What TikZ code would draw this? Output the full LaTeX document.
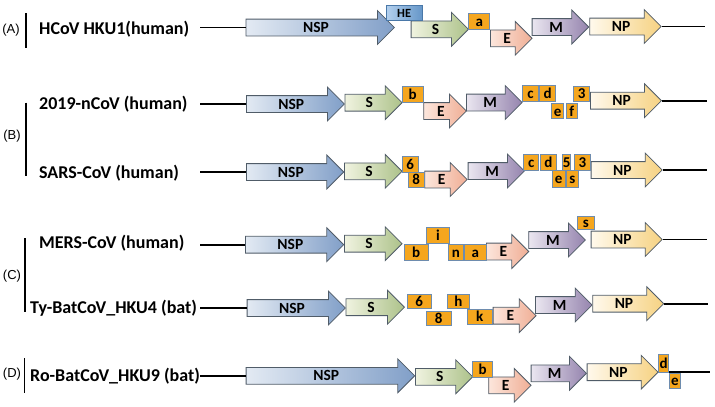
\documentclass[tikz,border=0pt]{standalone}
\usepackage{fontspec}
\setmainfont{Carlito}
\newfontfamily\tagfont{Liberation Sans}
\usepackage{tikz}
\usetikzlibrary{shapes.arrows}

\definecolor{nspl}{HTML}{E3EAF3}
\definecolor{nspr}{HTML}{819FC8}
\definecolor{spkl}{HTML}{F0F3E0}
\definecolor{spkr}{HTML}{ADC28A}
\definecolor{envl}{HTML}{FCE6DC}
\definecolor{envr}{HTML}{F0AE95}
\definecolor{meml}{HTML}{EAE6F0}
\definecolor{memr}{HTML}{9584AE}
\definecolor{ncpl}{HTML}{FFF9EC}
\definecolor{ncpr}{HTML}{F6D282}
\definecolor{hel}{HTML}{B3D0EE}
\definecolor{her}{HTML}{6697C9}
\definecolor{heedge}{HTML}{4A78A8}
\definecolor{orfill}{HTML}{F5A61E}
\definecolor{orfedge}{HTML}{6E8CAE}
\definecolor{genedge}{HTML}{505C68}

\tikzset{
  gene/.style={single arrow, draw=genedge, line width=0.8pt, single arrow head extend=8.5pt,
    text height=10pt, text depth=0pt, inner xsep=0pt, inner ysep=3pt, anchor=tail,
    font=\fontsize{15.5}{15.5}\selectfont\bfseries},
  nsp/.style={gene, left color=nspl, right color=nspr},
  spk/.style={gene, left color=spkl, right color=spkr},
  env/.style={gene, left color=envl, right color=envr},
  mem/.style={gene, left color=meml, right color=memr},
  ncp/.style={gene, left color=ncpl, right color=ncpr},
  orf/.style 2 args={rectangle, draw=orfedge, fill=orfill, line width=0.8pt, minimum width=#1,
    minimum height=#2, inner sep=0pt, text height=10pt, text depth=0pt, anchor=north west,
    font=\fontsize{15}{15}\selectfont\bfseries},
  hebox/.style 2 args={orf={#1}{#2}, draw=heedge, left color=hel, right color=her,
    font=\fontsize{12.5}{12.5}\selectfont\bfseries},
  virus/.style={anchor=west, inner sep=0pt, font=\fontsize{18}{20}\selectfont\bfseries},
  grp/.style={inner sep=0pt, font=\tagfont\fontsize{13}{15}\selectfont},
  backbone/.style={line width=1.6pt},
  bar/.style={line width=1.2pt}
}

\begin{document}
\begin{tikzpicture}[x=1pt,y=-1pt]
  \useasboundingbox (0,0) rectangle (715,407);

  % group tags
  \node[grp] (tagA) at (11,30) {(A)};
  \node[grp] (tagB) at (12,136) {(B)};
  \node[grp] (tagC) at (12,276) {(C)};
  \node[grp] (tagD) at (12,374) {(D)};
  \draw[bar] (26,13.3) -- (26,48.3);
  \draw[bar] (26,102.7) -- (26,175.7);
  \draw[bar] (25,238.3) -- (25,311.7);
  \draw[bar] (24.3,358.3) -- (24.3,392.7);

  % virus names
  \node[virus] (nameA) at (39,29.3) {HCoV HKU1(human)};
  \node[virus] (nameB) at (39,104) {2019-nCoV (human)};
  \node[virus] (nameS) at (39,173) {SARS-CoV (human)};
  \node[virus] (nameM) at (39,243.3) {MERS-CoV (human)};
  \node[virus] (nameT) at (30,308.3) {Ty-BatCoV\_HKU4 (bat)};
  \node[virus] (nameD) at (30,376) {Ro-BatCoV\_HKU9 (bat)};

  % (A) HCoV HKU1
  \node[nsp, minimum height=148.5pt] (nspA) at (245.5,27.5) {NSP};
  \node[spk, minimum height=57.3pt] (spkA) at (410.7,29.3) {S};
  \node[env, minimum height=41.7pt] (envA) at (490,38.3) {E};
  \node[mem, minimum height=56.6pt] (memA) at (531.7,27) {M};
  \node[ncp, minimum height=71.4pt] (ncpA) at (589.3,26.5) {NP};
  \coordinate (lsA) at (200,27.5);
  \coordinate (leA) at (705,26.5);
  \draw[backbone] (lsA) -- (nspA.tail);
  \draw[backbone] (ncpA.tip) -- (leA);
  \node[hebox={36pt}{15.3pt}] (heA) at (385.7,4.7) {HE};
  \node[orf={21pt}{16pt}] (aA) at (468.3,13.3) {a};

  % (B) 2019-nCoV
  \node[nsp, minimum height=98pt] (nspB) at (246,104) {NSP};
  \node[spk, minimum height=57.2pt] (spkB) at (344.5,102.7) {S};
  \node[env, minimum height=42.7pt] (envB) at (423.3,111) {E};
  \node[mem, minimum height=55.7pt] (memB) at (466,102.5) {M};
  \node[ncp, minimum height=71pt] (ncpB) at (590,100.7) {NP};
  \coordinate (lsB) at (200,104);
  \coordinate (leB) at (706.7,100.7);
  \draw[backbone] (lsB) -- (nspB.tail);
  \draw[backbone] (ncpB.tip) -- (leB);
  \node[orf={21pt}{16.3pt}] (bB) at (401.7,86) {b};
  \node[orf={15.4pt}{15.7pt}] (cB) at (522.3,85) {c};
  \node[orf={15.7pt}{15.7pt}] (dB) at (539.3,85) {d};
  \node[orf={12.3pt}{15pt}] (eB) at (551,103.3) {e};
  \node[orf={10.7pt}{15pt}] (fB) at (566,103.3) {f};
  \node[orf={16pt}{14.7pt}] (threeB) at (573.3,86) {3};

  % (B) SARS-CoV
  \node[nsp, minimum height=97.3pt] (nspS) at (246,172) {NSP};
  \node[spk, minimum height=57.7pt] (spkS) at (344,171.3) {S};
  \node[env, minimum height=42.4pt] (envS) at (424.3,179.5) {E};
  \node[mem, minimum height=56.3pt] (memS) at (467.7,171) {M};
  \node[ncp, minimum height=71pt] (ncpS) at (590.7,170) {NP};
  \coordinate (lsS) at (200,172);
  \coordinate (leS) at (706.7,170);
  \draw[backbone] (lsS) -- (nspS.tail);
  \draw[backbone] (ncpS.tip) -- (leS);
  \node[orf={16pt}{15.7pt}] (sixS) at (401.7,156) {6};
  \node[orf={16.3pt}{15.6pt}] (eightS) at (407.7,171.7) {8};
  \node[orf={15pt}{16pt}] (cS) at (523.3,154) {c};
  \node[orf={16pt}{16pt}] (dS) at (540,154) {d};
  \node[orf={7.7pt}{16pt}] (fiveS) at (562.3,154) {5};
  \node[orf={16pt}{16pt}] (threeS) at (574,154) {3};
  \node[orf={13.3pt}{16.7pt}] (eS) at (551.7,170) {e};
  \node[orf={11.7pt}{16.7pt}] (sS) at (566,170) {s};

  % (C) MERS-CoV
  \node[nsp, minimum height=98.3pt] (nspM) at (245,244.7) {NSP};
  \node[spk, minimum height=57.7pt] (spkM) at (344,243.7) {S};
  \node[env, minimum height=42.3pt] (envM) at (486,251.5) {E};
  \node[mem, minimum height=56.7pt] (memM) at (528.3,240) {M};
  \node[ncp, minimum height=71pt] (ncpM) at (590.7,239.5) {NP};
  \coordinate (lsM) at (200,244.7);
  \coordinate (leM) at (706.7,239.5);
  \draw[backbone] (lsM) -- (nspM.tail);
  \draw[backbone] (ncpM.tip) -- (leM);
  \node[orf={23.7pt}{16pt}] (bM) at (404,244) {b};
  \node[orf={23.6pt}{16pt}] (iM) at (425.7,227.3) {i};
  \node[orf={14.4pt}{16pt}] (nM) at (448.3,244) {n};
  \node[orf={21.4pt}{16pt}] (aM) at (464.3,244) {a};
  \node[orf={17.3pt}{13.6pt}] (sM) at (576.7,215.7) {s};

  % (C) Ty-BatCoV HKU4
  \node[nsp, minimum height=98.3pt] (nspT) at (246.7,308) {NSP};
  \node[spk, minimum height=58.5pt] (spkT) at (345.5,307.2) {S};
  \node[env, minimum height=43pt] (envT) at (492.7,315.7) {E};
  \node[mem, minimum height=56.7pt] (memT) at (535,305) {M};
  \node[ncp, minimum height=71pt] (ncpT) at (592.3,303.7) {NP};
  \coordinate (lsT) at (200,308);
  \coordinate (leT) at (708.3,303.7);
  \draw[backbone] (lsT) -- (nspT.tail);
  \draw[backbone] (ncpT.tip) -- (leT);
  \node[orf={24.3pt}{14.3pt}] (sixT) at (406.7,294) {6};
  \node[orf={25pt}{14.3pt}] (eightT) at (425.7,310.7) {8};
  \node[orf={22.6pt}{14pt}] (hT) at (446.7,294.3) {h};
  \node[orf={25pt}{15pt}] (kT) at (466.7,309) {k};

  % (D) Ro-BatCoV HKU9
  \node[nsp, minimum height=168.6pt] (nspD) at (245.7,375.8) {NSP};
  \node[spk, minimum height=57.3pt] (spkD) at (415,376.8) {S};
  \node[env, minimum height=42.4pt] (envD) at (488.3,385.3) {E};
  \node[mem, minimum height=55.3pt] (memD) at (530.7,373.3) {M};
  \node[ncp, minimum height=71pt] (ncpD) at (586.7,372.2) {NP};
  \coordinate (lsD) at (200,375.8);
  \coordinate (leD) at (710,372.2);
  \draw[backbone] (lsD) -- (nspD.tail);
  \draw[backbone] (ncpD.tip) -- (leD);
  \node[orf={20pt}{15.7pt}] (bD) at (472.3,361) {b};
  \node[orf={10pt}{17.7pt}] (dD) at (658.3,354) {d};
  \node[orf={11pt}{15.6pt}] (eD) at (669,372.7) {e};
\end{tikzpicture}
\end{document}
